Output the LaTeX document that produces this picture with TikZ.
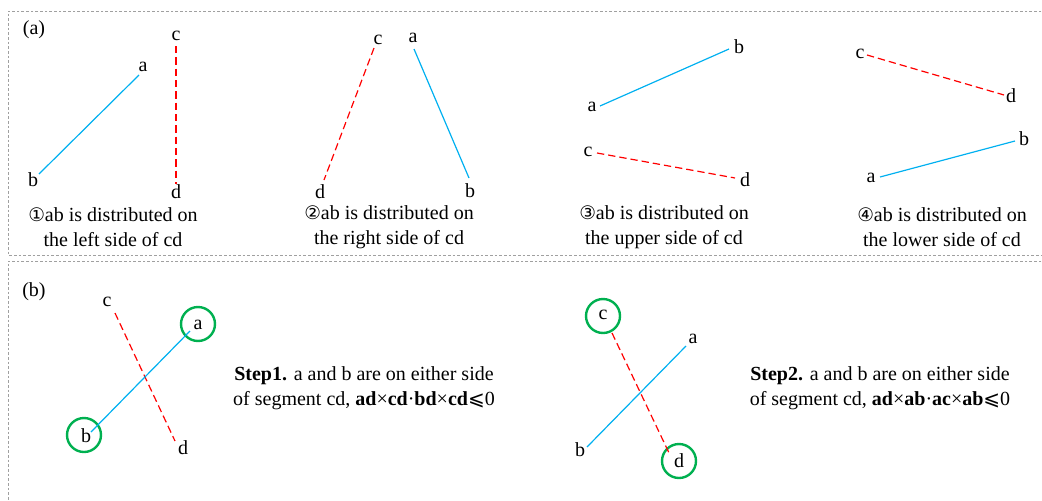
\documentclass[tikz,border=0pt]{standalone}
\usepackage{fontspec}
\setmainfont{Liberation Serif}
\newfontfamily\symfont{DejaVu Sans}
\newcommand\circnum[1]{{\symfont\fontsize{14}{18.75}\selectfont #1}}
\begin{document}
\begin{tikzpicture}[x=0.75pt,y=-0.75pt,
  every node/.style={font=\fontsize{15}{18.75}\selectfont, inner sep=0pt},
  seg/.style={draw={rgb,255:red,0;green,176;blue,240}, line width=0.9pt},
  cut/.style={draw=red, line width=0.9pt, dash pattern=on 5.5pt off 3pt},
  ring/.style={draw={rgb,255:red,0;green,176;blue,80}, line width=1.8pt, circle, minimum size=25.5pt},
  frame/.style={draw={rgb,255:red,160;green,160;blue,160}, line width=0.5pt, dash pattern=on 2pt off 1.5pt},
  captext/.style={align=center}]
\useasboundingbox (0,0) rectangle (1042,500);
\draw[frame] (1060,11) -- (8,11) -- (8,255) -- (1060,255);
\draw[frame] (1060,261) -- (8,261) -- (8,520);
\node (la) at (34,30) {(a)};
\node (lb) at (34,292) {(b)};
% panel 1
\node (a1) at (143,67) {a}; \node (b1) at (33,180) {b};
\node (c1) at (176,36) {c}; \node (d1) at (176,192) {d};
\coordinate (a1e) at (139,75); \coordinate (b1e) at (39,174);
\coordinate (c1e) at (176,46); \coordinate (d1e) at (176,184);
\draw[seg] (a1e) -- (b1e);
\draw[cut] (c1e) -- (d1e);
\node[captext] (t1) at (113,227) {\circnum{①}ab is distributed on\\the left side of cd};
% panel 2
\node (c2) at (378,40) {c}; \node (d2) at (320,192) {d};
\node (a2) at (413,38) {a}; \node (b2) at (470,191) {b};
\coordinate (c2e) at (374,48); \coordinate (d2e) at (324,180);
\coordinate (a2e) at (414,49); \coordinate (b2e) at (469,178);
\draw[cut] (c2e) -- (d2e);
\draw[seg] (a2e) -- (b2e);
\node[captext] (t2) at (389,227) {\circnum{②}ab is distributed on\\the right side of cd};
% panel 3
\node (b3) at (739,47) {b}; \node (a3) at (592,107) {a};
\node (c3) at (588,152) {c}; \node (d3) at (745,180) {d};
\coordinate (a3e) at (600,106); \coordinate (b3e) at (729,49);
\coordinate (c3e) at (597,153); \coordinate (d3e) at (735,178);
\draw[seg] (a3e) -- (b3e);
\draw[cut] (c3e) -- (d3e);
\node[captext] (t3) at (664,227) {\circnum{③}ab is distributed on\\the upper side of cd};
% panel 4
\node (c4) at (860,54) {c}; \node (d4) at (1011,96) {d};
\node (b4) at (1024,139) {b}; \node (a4) at (871,178) {a};
\coordinate (c4e) at (867,55); \coordinate (d4e) at (1004,95);
\coordinate (a4e) at (880,177); \coordinate (b4e) at (1015,141);
\draw[cut] (c4e) -- (d4e);
\draw[seg] (a4e) -- (b4e);
\node[captext] (t4) at (942,227) {\circnum{④}ab is distributed on\\the lower side of cd};
% step 1
\node (c5) at (107,302) {c}; \node (d5) at (183,448) {d};
\node (a5) at (198,325) {a}; \node (b5) at (86,436) {b};
\node[ring] (ra5) at (198,324) {}; \node[ring] (rb5) at (84,435) {};
\coordinate (c5e) at (115,313); \coordinate (d5e) at (175,441);
\coordinate (a5e) at (190,331); \coordinate (b5e) at (91,432);
\draw[cut] (c5e) -- (d5e);
\draw[seg] (a5e) -- (b5e);
\node[captext] (t5) at (364,388) {\textbf{Step1.} a and b are on either side\\of segment cd, \textbf{ad}×\textbf{cd}·\textbf{bd}×\textbf{cd}{\symfont ⩽}0};
% step 2
\node (c6) at (603,315) {c}; \node (d6) at (679,461) {d};
\node (a6) at (693,339) {a}; \node (b6) at (580,450) {b};
\node[ring] (rc6) at (603,316) {}; \node[ring] (rd6) at (679,461) {};
\coordinate (c6e) at (612,333); \coordinate (d6e) at (670,455);
\coordinate (a6e) at (686,346); \coordinate (b6e) at (587,447);
\draw[cut] (c6e) -- (d6e);
\draw[seg] (a6e) -- (b6e);
\node[captext] (t6) at (880,388) {\textbf{Step2.} a and b are on either side\\of segment cd, \textbf{ad}×\textbf{ab}·\textbf{ac}×\textbf{ab}{\symfont ⩽}0};
\end{tikzpicture}
\end{document}
